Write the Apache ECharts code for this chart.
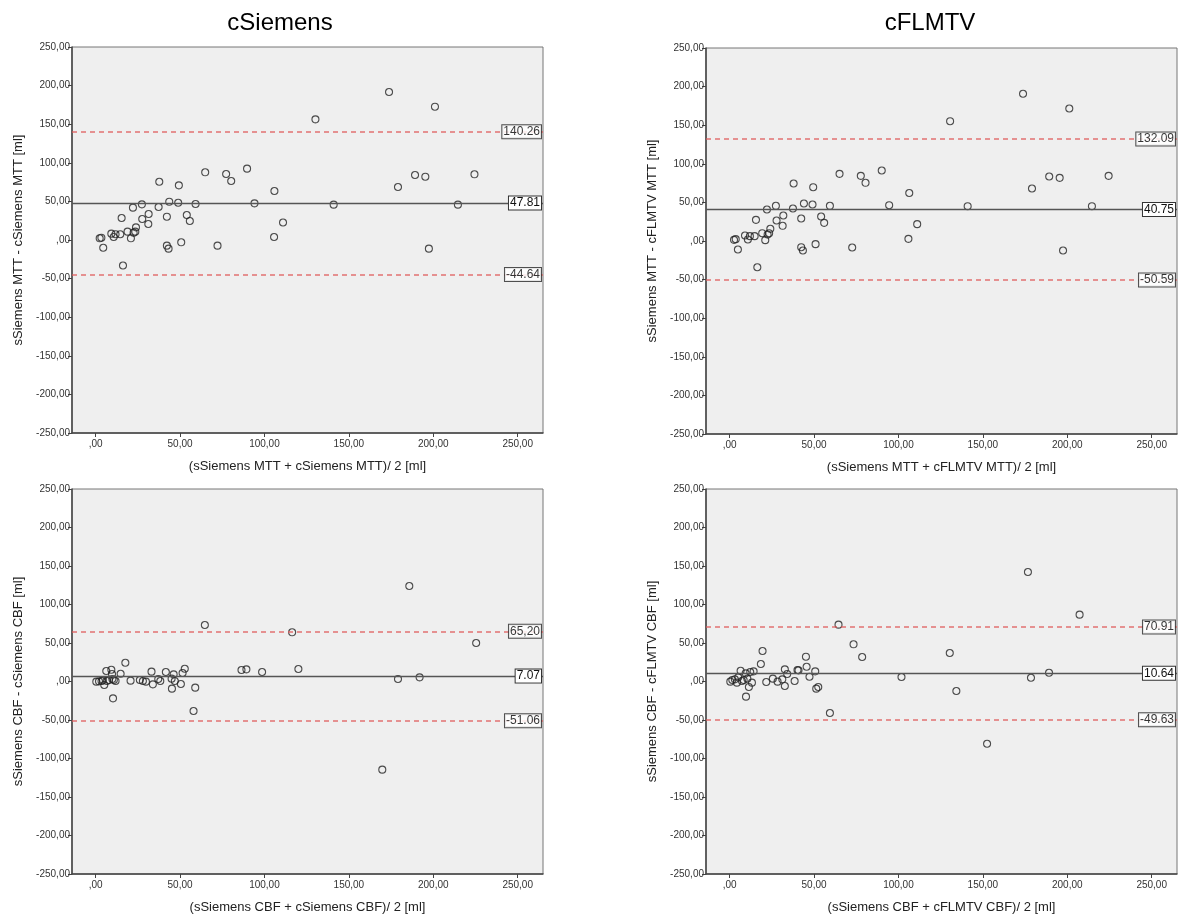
<!DOCTYPE html>
<html>
<head>
<meta charset="utf-8">
<script src="https://cdn.jsdelivr.net/npm/echarts@6/dist/echarts.min.js"></script>
<style>
  html, body { margin: 0; padding: 0; background: #fff; }
  #myChart { width: 1181px; height: 915px; }
</style>
</head>
<body>
<div id="myChart"></div>
<script>
// tick labels
const xTicks = [0, 50, 100, 150, 200, 250];
const yTicks = [-250, -200, -150, -100, -50, 0, 50, 100, 150, 200, 250];

// panel titles
const columnTitles = ['cSiemens', 'cFLMTV'];

// MTT sSiemens vs cSiemens: [mean, difference]
const mttSiemensPoints = [
  [2.4, 2.2], [3.4, 3.0], [4.5, -10], [9.3, 8.2], [10.7, 3.9], [11.8, 7.4], [14.6, 7.4],
  [15.4, 28.5], [16.2, -33], [18.9, 10.8], [20.9, 2.2], [22.1, 41.9], [22.5, 9.5],
  [23.5, 10.8], [23.9, 16.4], [27.4, 46.2], [27.6, 27.2], [31.2, 20.7], [31.4, 33.7],
  [37.3, 42.7], [37.7, 75.5], [42.2, 30.2], [42.2, -7.3], [43.2, -11.2], [43.6, 49.6],
  [48.9, 48.3], [49.3, 70.8], [50.7, -3], [54.0, 32.4], [55.8, 24.6], [59.2, 46.6],
  [64.9, 87.7], [72.2, -7.3], [77.3, 85.5], [80.3, 76.4], [89.7, 92.4], [94.1, 47.5],
  [105.9, 63.5], [105.7, 3.9], [111.0, 22.7], [130.2, 156.3], [141.0, 45.8],
  [173.8, 191.7], [201.0, 172.7], [179.1, 68.7], [189.2, 84.2], [195.3, 82.0],
  [224.4, 85.1], [214.6, 45.8], [197.4, -11.2]
];
const mttSiemensLines = [140.26, 47.81, -44.64];
const mttSiemensLabels = ['140.26', '47.81', '-44.64'];

// MTT sSiemens vs cFLMTV
const mttFlmtvPoints = [
  [2.6, 1.5], [3.6, 2.4], [4.9, -11], [9.1, 7.1], [10.8, 1.9], [12.0, 6.3], [14.8, 6.3],
  [15.6, 27.4], [16.4, -34], [19.3, 10.1], [21.1, 1.1], [22.1, 40.8], [22.5, 8.4],
  [23.4, 10.0], [24.1, 15.8], [27.4, 45.6], [27.8, 26.6], [31.4, 19.7], [31.8, 33.0],
  [37.5, 42.1], [37.9, 74.5], [42.4, 29.1], [42.4, -8], [43.4, -12.3], [44.0, 48.6],
  [49.1, 47.3], [49.5, 69.7], [50.9, -4.1], [54.2, 31.7], [56.0, 23.5], [59.4, 45.6],
  [65.1, 87.0], [72.6, -8.4], [77.7, 84.4], [80.5, 75.4], [90.1, 91.3], [94.5, 46.4],
  [106.4, 62.2], [105.9, 2.8], [111.1, 21.8], [130.6, 155.2], [141.0, 45.1],
  [173.8, 190.7], [201.2, 171.6], [179.1, 68.0], [189.3, 83.5], [195.5, 81.8],
  [224.5, 84.4], [214.6, 45.1], [197.5, -12.3]
];
const mttFlmtvLines = [132.09, 40.75, -50.59];
const mttFlmtvLabels = ['132.09', '40.75', '-50.59'];

// CBF sSiemens vs cSiemens
const cbfSiemensPoints = [
  [0.4, -0.2], [2.0, 0.2], [3.5, 0.6], [4.3, 1.5], [5.1, -4.5], [6.3, 13.6], [6.7, 0.6],
  [7.9, 1.9], [9.3, 15.3], [9.7, 9.7], [9.9, 3.2], [10.8, 1.9], [11.8, 0.6], [10.3, -21.9],
  [14.8, 10.1], [17.6, 24.4], [20.7, 1.1], [26.2, 1.9], [28.0, 0.6], [29.8, -0.2],
  [33.1, 12.8], [33.9, -3.7], [37.1, 3.2], [38.3, 0.6], [41.6, 12.3], [45.0, 3.7],
  [45.2, -9.3], [46.2, 9.3], [46.9, 0.6], [50.5, -3.2], [51.5, 11.0], [52.8, 16.6],
  [59.0, -8], [58.0, -38.3], [64.7, 73.4], [86.4, 14.9], [89.3, 15.8], [98.6, 12.3],
  [116.4, 63.9], [120.1, 16.2], [185.8, 124.0], [225.4, 50.0], [179.1, 3.2],
  [191.9, 5.4], [169.8, -114.5]
];
const cbfSiemensLines = [65.20, 7.07, -51.06];
const cbfSiemensLabels = ['65,20', '7.07', '-51.06'];

// CBF sSiemens vs cFLMTV
const cbfFlmtvPoints = [
  [0.4, -0.2], [1.6, 1.9], [3.1, 2.8], [4.3, -1.5], [5.1, 5.4], [6.5, 14.0], [7.3, 0.6],
  [8.3, 1.9], [9.5, 10.6], [9.7, -19.7], [10.5, 3.7], [11.4, -7.1], [12.2, 12.3],
  [13.2, -1.5], [14.2, 13.2], [18.5, 22.7], [19.5, 39.6], [21.7, -0.6], [25.6, 3.7],
  [28.4, -0.2], [31.2, 2.8], [32.7, 15.8], [32.7, -5.8], [34.1, 9.7], [38.5, 0.6],
  [40.2, 14.9], [40.8, 14.5], [45.2, 32.2], [45.6, 19.2], [47.3, 6.2], [50.7, 13.2],
  [51.3, -9.3], [52.5, -7.1], [59.4, -40.9], [64.5, 73.8], [73.4, 48.3], [78.5, 31.8],
  [101.8, 5.8], [130.4, 37.0], [134.3, -12.3], [176.7, 142.2], [207.3, 86.8],
  [152.5, -80.8], [178.5, 4.9], [189.2, 11.4]
];
const cbfFlmtvLines = [70.91, 10.64, -49.63];
const cbfFlmtvLabels = ['70.91', '10.64', '-49.63'];

const panels = [
  { points: mttSiemensPoints, lines: mttSiemensLines, labels: mttSiemensLabels,
    xName: '(sSiemens MTT + cSiemens MTT)/ 2 [ml]', yName: 'sSiemens MTT - cSiemens MTT [ml]' },
  { points: mttFlmtvPoints, lines: mttFlmtvLines, labels: mttFlmtvLabels,
    xName: '(sSiemens MTT + cFLMTV MTT)/ 2 [ml]', yName: 'sSiemens MTT - cFLMTV MTT [ml]' },
  { points: cbfSiemensPoints, lines: cbfSiemensLines, labels: cbfSiemensLabels,
    xName: '(sSiemens CBF + cSiemens CBF)/ 2 [ml]', yName: 'sSiemens CBF - cSiemens CBF [ml]' },
  { points: cbfFlmtvPoints, lines: cbfFlmtvLines, labels: cbfFlmtvLabels,
    xName: '(sSiemens CBF + cFLMTV CBF)/ 2 [ml]', yName: 'sSiemens CBF - cFLMTV CBF [ml]' }
];

const FONT = 'Liberation Sans, Arial, sans-serif';
const RED = '#e05c5c';
// grid boxes (left, top) in px
const gridPos = [
  { left: 72, top: 47 }, { left: 706, top: 48 },
  { left: 72, top: 489 }, { left: 706, top: 489 }
];

function fmt(v) {
  let s = v.toFixed(2).replace('.', ',');
  if (s.startsWith('0,')) s = s.slice(1);
  return s;
}

const grid = [], xAxis = [], yAxis = [], series = [];
panels.forEach((p, i) => {
  grid.push({
    left: gridPos[i].left, top: gridPos[i].top, width: 471, height: 386,
    show: true, backgroundColor: '#efefef', borderColor: '#777', borderWidth: 1
  });
  xAxis.push({
    gridIndex: i, type: 'value', min: -14, max: 265,
    name: p.xName, nameLocation: 'middle', nameGap: 27,
    nameTextStyle: { fontFamily: FONT, fontSize: 13, color: '#222' },
    axisLine: { onZero: false, lineStyle: { color: '#444', width: 1.5 } },
    axisTick: { show: true, inside: false, length: 4, customValues: xTicks, lineStyle: { color: '#444' } },
    axisLabel: { customValues: xTicks, formatter: fmt, fontFamily: FONT, fontSize: 10, color: '#333', margin: 6 },
    splitLine: { show: false }
  });
  yAxis.push({
    gridIndex: i, type: 'value', min: -250, max: 250, interval: 50,
    name: p.yName, nameLocation: 'middle', nameGap: 47, nameRotate: 90,
    nameTextStyle: { fontFamily: FONT, fontSize: 13, color: '#222' },
    axisLine: { show: true, onZero: false, lineStyle: { color: '#444', width: 1.5 } },
    axisTick: { show: true, inside: false, length: 4, lineStyle: { color: '#444' } },
    axisLabel: { formatter: fmt, fontFamily: FONT, fontSize: 10, color: '#333', margin: 2 },
    splitLine: { show: false }
  });
  const refLabel = (k) => ({
    show: true, formatter: p.labels[k], position: 'insideEndTop',
    distance: [2, 0], align: 'right', verticalAlign: 'middle',
    fontFamily: FONT, fontSize: 12, color: '#111',
    backgroundColor: '#fff', borderColor: '#333', borderWidth: 1,
    padding: [1, 1, 0, 1]
  });
  const dashed = { color: RED, type: [5, 4], width: 1.5, opacity: 0.85 };
  series.push({
    type: 'scatter', xAxisIndex: i, yAxisIndex: i,
    data: p.points, symbol: 'circle', symbolSize: 7,
    itemStyle: { color: 'rgba(0,0,0,0)', borderColor: '#222', borderWidth: 1.1 },
    markLine: {
      silent: true, symbol: 'none', animation: false,
      lineStyle: dashed,
      data: [
        { yAxis: p.lines[0], label: refLabel(0), lineStyle: dashed },
        { yAxis: p.lines[1], label: refLabel(1),
          lineStyle: { color: '#555', type: 'solid', width: 1.3, opacity: 1 } },
        { yAxis: p.lines[2], label: refLabel(2), lineStyle: dashed }
      ]
    }
  });
});

const option = {
  animation: false,
  title: columnTitles.map((t, i) => ({
    text: t, left: i === 0 ? 275 : 925, top: 6, textAlign: 'center',
    textStyle: { fontFamily: FONT, fontSize: 24, fontWeight: 'normal', color: '#000' }
  })),
  grid, xAxis, yAxis, series
};

const chart = echarts.init(document.getElementById('myChart'));
chart.setOption(option);
</script>
</body>
</html>
